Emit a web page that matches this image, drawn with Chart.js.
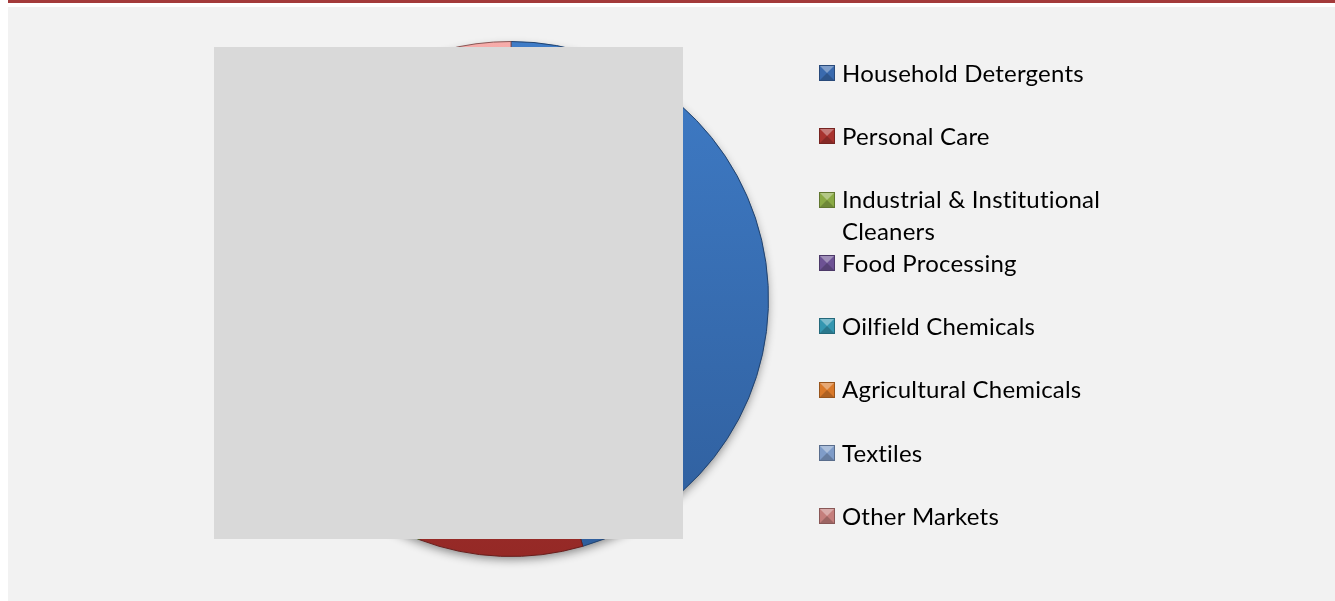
<!DOCTYPE html>
<html>
<head>
<meta charset="utf-8">
<script src="https://cdn.jsdelivr.net/npm/chart.js@4/dist/chart.umd.min.js"></script>
<style>
  html, body { margin: 0; padding: 0; background: #ffffff; width: 1335px; height: 601px; overflow: hidden; }
  #topbar { position: absolute; left: 8px; top: 0; width: 1327px; height: 3px; background: #A33A3A; }
  #panel { position: absolute; left: 8px; top: 7px; width: 1327px; height: 594px; background: #F2F2F2; }
  #chartWrap { position: absolute; left: 0; top: 0; width: 1335px; height: 601px; }
  #cover { position: absolute; left: 214px; top: 47px; width: 469px; height: 492px; background: #D9D9D9; }
</style>
</head>
<body>
<div id="topbar"></div>
<div id="panel"></div>
<div id="chartWrap"><canvas id="c" width="1335" height="601"></canvas></div>
<div id="cover"></div>
<script>
// ---- data (percent shares, read/estimated from the picture) ----
const categories = [
  "Household Detergents",
  "Personal Care",
  "Industrial & Institutional Cleaners",
  "Food Processing",
  "Oilfield Chemicals",
  "Agricultural Chemicals",
  "Textiles",
  "Other Markets"
];
const shares = [45.5, 10.3, 9.0, 5.0, 6.0, 4.0, 3.0, 17.2];
const lightColors = ["#3F7CC7", "#B93C38", "#A6C95E", "#8E72B5", "#4FB5D0", "#F9A050", "#A3BEE4", "#F7ACAA"];
const darkColors  = ["#2F5E9C", "#952926", "#6E8C34", "#5B427D", "#2B7F97", "#C46A1A", "#6A86B3", "#C27A78"];
const legendColors = ["#3A6AAE", "#A8332F", "#8AAA45", "#6D5294", "#3496B0", "#D9792A", "#7F9CC8", "#C47E7C"];

function sliceFill(ctx) {
  const i = ctx.dataIndex;
  const chart = ctx.chart;
  const a = chart.chartArea;
  if (!a || i === undefined) return lightColors[i || 0];
  const g = chart.ctx.createLinearGradient(0, a.top, 0, a.bottom);
  g.addColorStop(0, lightColors[i]);
  g.addColorStop(1, darkColors[i]);
  return g;
}

const shadowPlugin = {
  id: 'pieShadow',
  beforeDatasetsDraw(chart) {
    const arc = chart.getDatasetMeta(0).data[0];
    if (!arc) return;
    const ctx = chart.ctx;
    ctx.save();
    ctx.shadowColor = 'rgba(0,0,0,0.45)';
    ctx.shadowBlur = 10;
    ctx.shadowOffsetY = 4;
    ctx.beginPath();
    ctx.arc(arc.x, arc.y, arc.outerRadius - 1, 0, Math.PI * 2);
    ctx.fillStyle = '#777';
    ctx.fill();
    ctx.restore();
  }
};

function shade(hex, f) {
  const n = parseInt(hex.slice(1), 16);
  let r = (n >> 16) & 255, g = (n >> 8) & 255, b = n & 255;
  if (f >= 0) { r += (255 - r) * f; g += (255 - g) * f; b += (255 - b) * f; }
  else { r *= (1 + f); g *= (1 + f); b *= (1 + f); }
  return 'rgb(' + Math.round(r) + ',' + Math.round(g) + ',' + Math.round(b) + ')';
}

const legendPlugin = {
  id: 'sideLegend',
  afterDraw(chart) {
    const ctx = chart.ctx;
    const labels = chart.data.labels;
    const x0 = 819, tx = 842, y0 = 73, step = 63.3, box = 16, maxW = 275, lineH = 32;
    ctx.save();
    ctx.font = '24px Lato, "Open Sans", sans-serif';
    try { ctx.letterSpacing = '0.2px'; } catch (e) {}
    ctx.textBaseline = 'middle';
    labels.forEach((lab, i) => {
      const cy = y0 + i * step;
      const bx = x0, by = Math.round(cy - box / 2);
      const c = legendColors[i];
      const cxm = bx + box / 2, cym = by + box / 2;
      const tri = (pts, col) => {
        ctx.beginPath();
        ctx.moveTo(pts[0][0], pts[0][1]);
        for (let k = 1; k < pts.length; k++) ctx.lineTo(pts[k][0], pts[k][1]);
        ctx.closePath();
        ctx.fillStyle = col;
        ctx.fill();
      };
      ctx.fillStyle = c;
      ctx.fillRect(bx, by, box, box);
      tri([[bx, by], [bx + box, by], [cxm, cym]], shade(c, 0.35));
      tri([[bx, by + box], [cxm, cym], [bx + box, by + box]], shade(c, -0.2));
      ctx.strokeStyle = shade(c, -0.3);
      ctx.lineWidth = 1;
      ctx.strokeRect(bx + 0.5, by + 0.5, box - 1, box - 1);
      const words = lab.split(' ');
      const lines = [];
      let cur = '';
      words.forEach(w => {
        const t = cur ? cur + ' ' + w : w;
        if (ctx.measureText(t).width > maxW && cur) { lines.push(cur); cur = w; }
        else cur = t;
      });
      if (cur) lines.push(cur);
      ctx.fillStyle = '#000000';
      lines.forEach((ln, k) => ctx.fillText(ln, tx, cy + 1 + k * lineH));
    });
    ctx.restore();
  }
};

new Chart(document.getElementById('c'), {
  type: 'pie',
  data: {
    labels: categories,
    datasets: [{
      data: shares,
      backgroundColor: sliceFill,
      borderColor: darkColors.map(c => shade(c, -0.3)),
      borderWidth: 1
    }]
  },
  options: {
    responsive: false,
    animation: false,
    layout: { padding: { left: 253, right: 566, top: 41, bottom: 44 } },
    plugins: {
      legend: { display: false },
      tooltip: { enabled: false }
    }
  },
  plugins: [shadowPlugin, legendPlugin]
});
</script>
</body>
</html>
